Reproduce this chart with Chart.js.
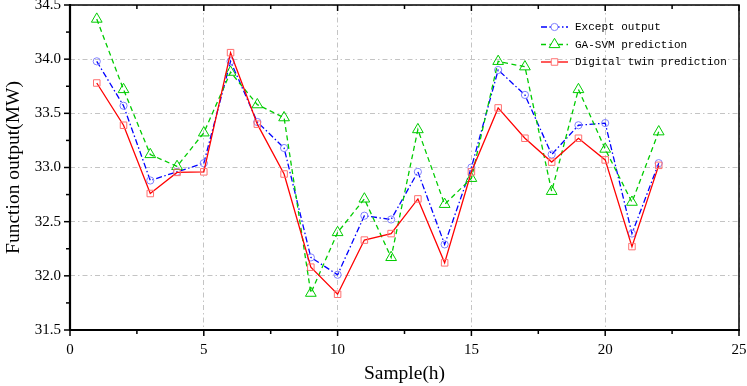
<!DOCTYPE html>
<html><head><meta charset="utf-8">
<script src="https://cdn.jsdelivr.net/npm/chart.js@4"></script>
<style>html,body{margin:0;padding:0;background:#fff}</style>
</head><body>
<canvas id="c" width="747" height="386"></canvas>
<script>
const samples = [1,2,3,4,5,6,7,8,9,10,11,12,13,14,15,16,17,18,19,20,21,22];
const expectOutput = [33.98,33.57,32.88,32.96,33.04,33.98,33.42,33.18,32.17,32.01,32.555,32.52,32.96,32.29,33.00,33.90,33.67,33.12,33.39,33.41,32.39,33.04];
const gaSvmPrediction = [34.37,33.72,33.12,33.01,33.32,33.88,33.58,33.46,31.84,32.40,32.71,32.17,33.35,32.66,32.90,33.98,33.93,32.78,33.72,33.17,32.68,33.33];
const digitalTwinPrediction = [33.78,33.39,32.76,32.955,32.96,34.06,33.40,32.94,32.08,31.83,32.33,32.39,32.71,32.12,32.96,33.55,33.27,33.05,33.27,33.07,32.27,33.02];
const seriesNames = ['Except output','GA-SVM prediction','Digital twin prediction'];
const xTickValues = [0,5,10,15,20,25];
const yTickValues = [31.5,32.0,32.5,33.0,33.5,34.0,34.5];
const xTitle = 'Sample(h)';
const yTitle = 'Function output(MW)';

const SERIF = '"Liberation Serif", "DejaVu Serif", serif';
const MONO = '"Liberation Mono", "DejaVu Sans Mono", monospace';
const toPts = ys => samples.map((x,i)=>({x:x,y:ys[i]}));

const styles = [
  {line:'#0000ff', point:'#8080ff', dash:[6,2.5,1.5,2.5], shape:'circle', r:3.6},
  {line:'#00cc00', point:'#00cc00', dash:[5,3.5], shape:'triangle', r:6.2},
  {line:'#ff0000', point:'#ff7070', dash:[], shape:'rect', r:4.6}
];

function drawMarker(ctx, shape, x, y, r, color){
  ctx.save();
  ctx.setLineDash([]);
  ctx.strokeStyle = color; ctx.lineWidth = 1; ctx.fillStyle = '#fff';
  ctx.beginPath();
  if(shape==='circle'){ ctx.arc(x,y,r,0,Math.PI*2); }
  else if(shape==='triangle'){
    ctx.moveTo(x, y - r);
    ctx.lineTo(x + r*Math.sin(Math.PI*2/3), y - r*Math.cos(Math.PI*2/3));
    ctx.lineTo(x + r*Math.sin(Math.PI*4/3), y - r*Math.cos(Math.PI*4/3));
    ctx.closePath();
  } else { const s = r*Math.SQRT1_2; ctx.rect(x-s,y-s,2*s,2*s); }
  ctx.fill(); ctx.stroke();
  ctx.restore();
}

function noPad(s){ s.paddingTop = 0; s.paddingBottom = 0; s.paddingLeft = 0; s.paddingRight = 0; }

const framePlugin = {
  id:'frame',
  afterDraw(chart){
    const ctx = chart.ctx, a = chart.chartArea;
    const xs = chart.scales.x, ys = chart.scales.y;
    ctx.save();
    ctx.strokeStyle = '#000';
    ctx.setLineDash([]);
    ctx.lineWidth = 1.5;
    ctx.beginPath();
    ctx.moveTo(a.left, a.top); ctx.lineTo(a.right, a.top); ctx.lineTo(a.right, a.bottom);
    ctx.stroke();
    ctx.lineWidth = 2.2;
    ctx.beginPath();
    ctx.moveTo(a.left, a.top-1); ctx.lineTo(a.left, a.bottom); ctx.lineTo(a.right+1, a.bottom);
    ctx.stroke();
    ctx.lineWidth = 1.5;
    for(let v = xs.min; v <= xs.max + 1e-9; v += 2.5){
      const px = xs.getPixelForValue(v);
      const major = Math.abs(v/5 - Math.round(v/5)) < 1e-6;
      const len = major ? 6 : 4;
      ctx.beginPath();
      ctx.moveTo(px, a.bottom); ctx.lineTo(px, a.bottom + len);
      ctx.moveTo(px, a.top); ctx.lineTo(px, a.top + len);
      ctx.stroke();
    }
    for(let v = ys.min; v <= ys.max + 1e-9; v += 0.25){
      const py = ys.getPixelForValue(v);
      const major = Math.abs(v/0.5 - Math.round(v/0.5)) < 1e-6;
      const len = major ? 6 : 4;
      ctx.beginPath();
      ctx.moveTo(a.left, py); ctx.lineTo(a.left - len, py);
      ctx.stroke();
    }
    ctx.restore();

    const lx0 = 541, lx1 = 568, tx = 575, rows = [27, 44.5, 62];
    ctx.save();
    ctx.font = '11px ' + MONO;
    ctx.textBaseline = 'middle';
    ctx.fillStyle = '#000';
    chart.data.datasets.forEach((ds, i) => {
      const st = styles[i], y = rows[i];
      ctx.strokeStyle = st.line; ctx.lineWidth = 1.3;
      ctx.setLineDash(st.dash);
      ctx.beginPath(); ctx.moveTo(lx0, y); ctx.lineTo(lx1, y); ctx.stroke();
      drawMarker(ctx, st.shape, (lx0+lx1)/2, y, st.r, st.point);
      ctx.fillText(ds.label, tx, y + 0.5);
    });
    ctx.restore();
  }
};

const datasets = [expectOutput, gaSvmPrediction, digitalTwinPrediction].map((vals, i) => ({
  label: seriesNames[i],
  data: toPts(vals),
  borderColor: styles[i].line,
  borderWidth: 1.3,
  borderDash: styles[i].dash,
  pointStyle: styles[i].shape,
  pointRadius: styles[i].r,
  pointHoverRadius: styles[i].r,
  pointBorderColor: styles[i].point,
  pointBackgroundColor: 'rgba(255,255,255,0)',
  pointBorderWidth: 1,
  fill: false,
  tension: 0,
  order: 2 - i
}));

new Chart(document.getElementById('c'), {
  type: 'line',
  data: { datasets },
  options: {
    responsive: false,
    animation: false,
    layout: { autoPadding: false, padding: { top: 5, right: 8, left: 0, bottom: 0 } },
    plugins: { legend: { display: false }, tooltip: { enabled: false } },
    scales: {
      x: {
        type: 'linear', min: 0, max: 25,
        afterBuildTicks: s => { s.ticks = xTickValues.map(v => ({value: v})); },
        afterFit: s => { s.height = 56; noPad(s); },
        ticks: { color: '#000', font: { family: SERIF, size: 15 }, padding: 11, maxRotation: 0, autoSkip: false },
        grid: { color: '#c4c4c4', lineWidth: 1, drawTicks: false },
        border: { display: false, dash: [5,3,1.5,3] },
        title: { display: true, text: xTitle, color: '#000', font: { family: SERIF, size: 19.5 }, padding: { top: 0, bottom: 0 } }
      },
      y: {
        type: 'linear', min: 31.5, max: 34.5,
        afterBuildTicks: s => { s.ticks = yTickValues.map(v => ({value: v})); },
        afterFit: s => { s.width = 70; noPad(s); },
        ticks: { color: '#000', font: { family: SERIF, size: 15 }, padding: 9, callback: v => Number(v).toFixed(1) },
        grid: { color: '#c4c4c4', lineWidth: 1, drawTicks: false },
        border: { display: false, dash: [5,3,1.5,3] },
        title: { display: true, text: yTitle, color: '#000', font: { family: SERIF, size: 19.5 }, padding: { top: 2, bottom: 0 } }
      }
    }
  },
  plugins: [framePlugin]
});
</script>
</body></html>
